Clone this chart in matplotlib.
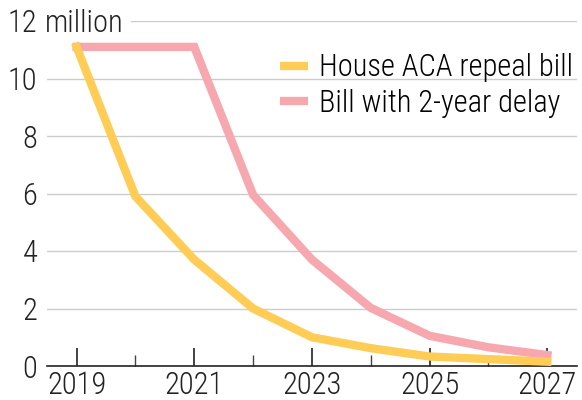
import matplotlib.pyplot as plt
from matplotlib.ticker import MultipleLocator
import matplotlib.transforms as mtransforms

years = [2019, 2020, 2021, 2022, 2023, 2024, 2025, 2026, 2027]
house_bill = [11.1, 5.9, 3.7, 2.0, 1.0, 0.62, 0.33, 0.24, 0.15]
delay_bill = [11.1, 11.1, 11.1, 5.95, 3.7, 2.02, 1.05, 0.65, 0.38]
yticks = [0, 2, 4, 6, 8, 10, 12]
ylabels = ["0", "2", "4", "6", "8", "10", "12"]

plt.rcParams['font.family'] = ['Roboto Condensed', 'Roboto', 'DejaVu Sans']
plt.rcParams['font.weight'] = 300
fs = 22

fig = plt.figure(figsize=(5.82, 4), dpi=100)
ax = fig.add_axes([0.081, 0.085, 0.91, 0.8625])

ax.plot(years, house_bill, color="#ffcc55", lw=6, label="House ACA repeal bill", solid_joinstyle="miter", zorder=3)
ax.plot(years, delay_bill, color="#f7a7ae", lw=6, label="Bill with 2-year delay", solid_joinstyle="miter", zorder=2)

ax.set_xlim(2018.5, 2027.5)
ax.set_ylim(0, 12)
ax.set_yticks(yticks)
ax.set_yticklabels(ylabels)
ax.set_xticks([2019, 2021, 2023, 2025, 2027])
ax.xaxis.set_minor_locator(MultipleLocator(1))

for y in yticks[1:]:
    x0 = 0.158 if y == 12 else 0.0
    ax.axhline(y, xmin=x0, xmax=1, color="#cccccc", lw=1, zorder=1)

trans = mtransforms.blended_transform_factory(ax.transAxes, ax.transData)
ax.text(-0.004, 12, "million", transform=trans, ha="left", va="center_baseline",
        fontsize=fs, color="#222222")

for s in ["top", "right", "left"]:
    ax.spines[s].set_visible(False)
ax.spines["bottom"].set_linewidth(1.2)
ax.spines["bottom"].set_color("#222222")

ax.tick_params(axis="y", length=0, labelsize=fs, pad=7, colors="#222222")
ax.tick_params(axis="x", which="major", direction="in", length=13, width=1.2, labelsize=fs, pad=3.5, colors="#222222")
ax.tick_params(axis="x", which="minor", direction="in", length=8, width=1, colors="#444444")

leg = ax.legend(loc="upper right", bbox_to_anchor=(0.9925, 0.906), frameon=False, fontsize=fs,
                borderpad=0, borderaxespad=0, handlelength=0.92, handletextpad=0.35, labelspacing=0.2)
for h in leg.get_lines():
    h.set_linewidth(6)
    h.set_solid_capstyle("butt")

fig.savefig("out.png", dpi=100)
